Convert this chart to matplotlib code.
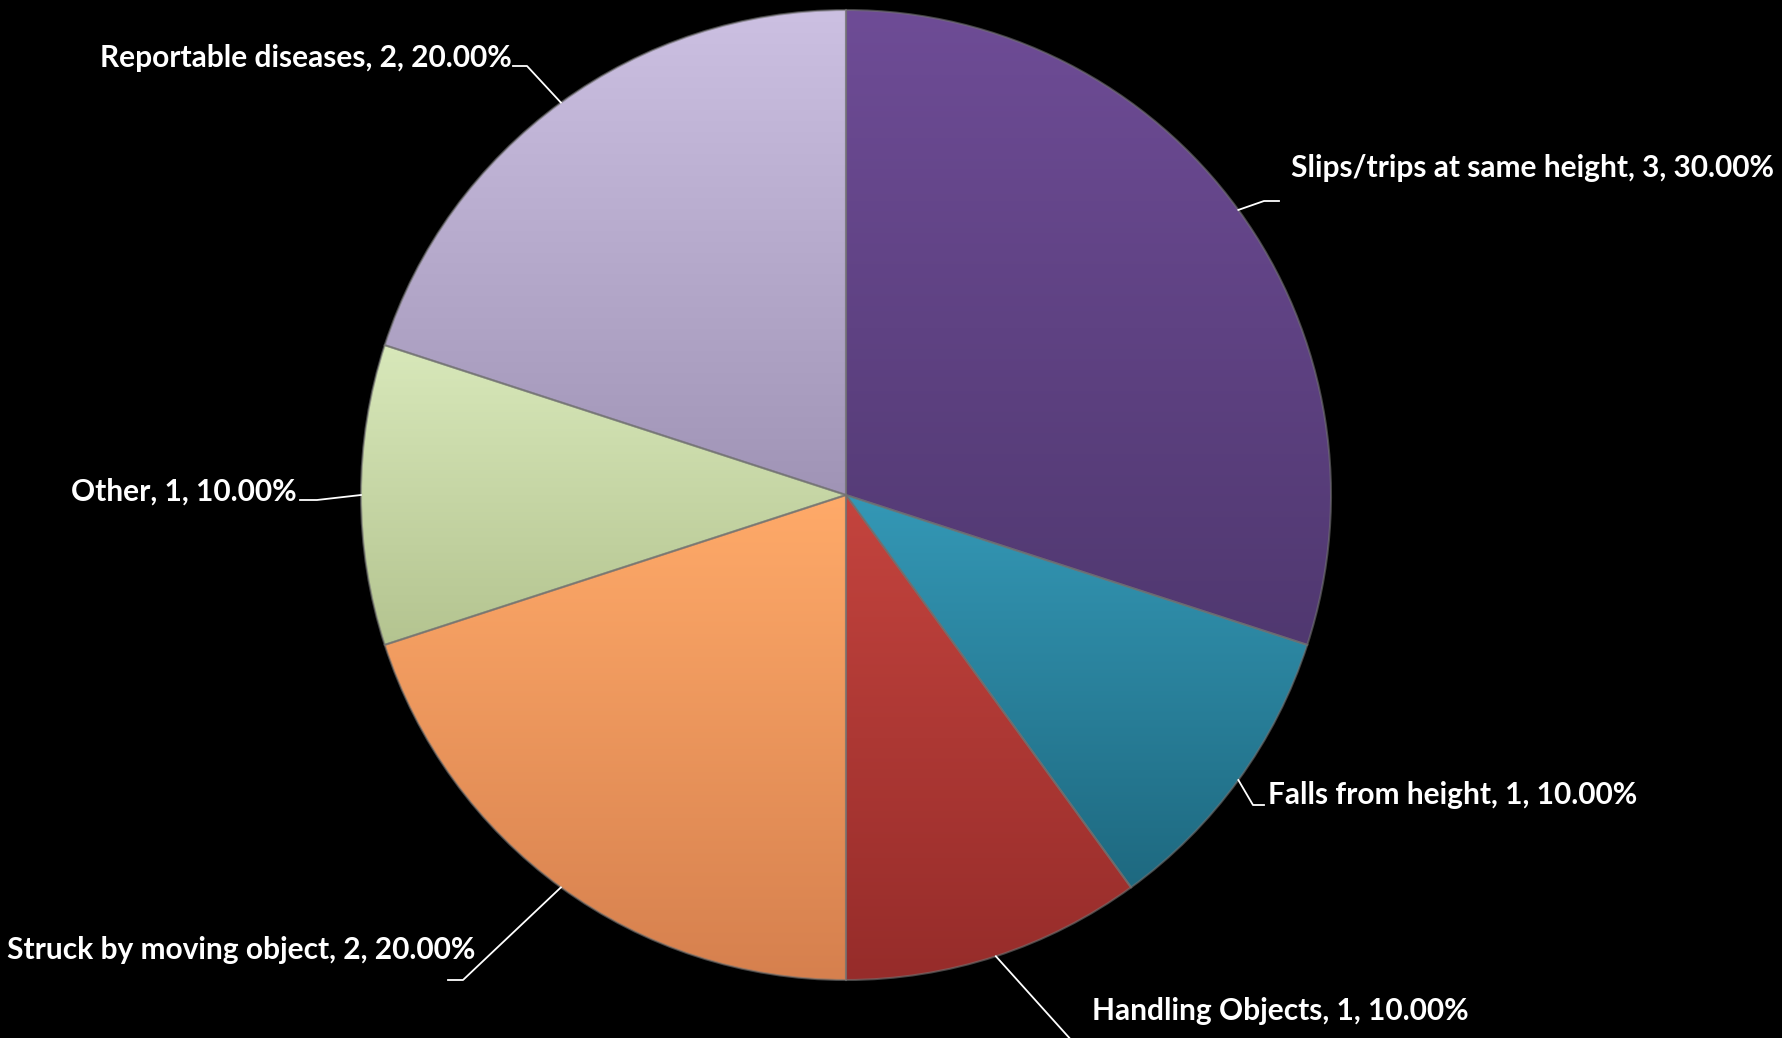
import numpy as np
import matplotlib
matplotlib.use("Agg")
import matplotlib.pyplot as plt
from matplotlib.colors import LinearSegmentedColormap

# accident categories, counts and shares
categories = ["Slips/trips at same height", "Falls from height", "Handling Objects",
              "Struck by moving object", "Other", "Reportable diseases"]
counts = [3, 1, 1, 2, 1, 2]
shares = [30.00, 10.00, 10.00, 20.00, 10.00, 20.00]

# light (top) and dark (bottom) shade of each slice
top_colors = ["#6E4C96", "#3498B6", "#C4443E", "#FFAA69", "#D8E8BA", "#CCC0E2"]
bottom_colors = ["#503870", "#1E6980", "#962C2A", "#D6804E", "#B4C490", "#A094B6"]

W, H = 1783, 1038
fig = plt.figure(figsize=(W / 100, H / 100), dpi=100, facecolor="black")
ax = fig.add_axes([0, 0, 1, 1])
ax.set_facecolor("black")

cx, cy, R = 846, H - 495, 485
wedges, _ = ax.pie(counts, startangle=90, counterclock=False, center=(cx, cy),
                   radius=R, frame=True)
ax.set_xlim(0, W)
ax.set_ylim(0, H)
ax.set_aspect("equal")
ax.axis("off")

grad = np.linspace(0, 1, 256).reshape(-1, 1)
for w, c1, c2 in zip(wedges, top_colors, bottom_colors):
    ext = w.get_path().get_extents()
    cmap = LinearSegmentedColormap.from_list("shade", [c2, c1])
    im = ax.imshow(grad, cmap=cmap, origin="lower", aspect="auto",
                   extent=(ext.x0, ext.x1, ext.y0, ext.y1), zorder=2,
                   interpolation="bilinear")
    im.set_clip_path(w)
    w.set_facecolor("none")
    w.set_edgecolor((0.45, 0.45, 0.45, 0.6))
    w.set_linewidth(1.5)
    w.set_zorder(3)

# label layout: text anchor (x, y from top), alignment, leader elbow and end
label_pos = [(1291, 168, "left", (1264, 201), (1279, 201)),
             (1268, 795, "left", (1253, 805), (1264, 805)),
             (1092, 1011, "left", (1073, 1042), (1086, 1042)),
             (475, 950, "right", (463, 980), (448, 980)),
             (297, 492, "right", (317, 500), (300, 500)),
             (512, 58, "right", (527, 66), (513, 66))]

for w, name, n, pct, (tx, ty, ha, elbow, end) in zip(wedges, categories, counts, shares, label_pos):
    mid = np.deg2rad((w.theta1 + w.theta2) / 2)
    rx, ry = cx + R * np.cos(mid), cy + R * np.sin(mid)
    ax.plot([rx, elbow[0], end[0]], [ry, H - elbow[1], H - end[1]],
            color="white", lw=1.3, zorder=4, clip_on=True)
    ax.text(tx, H - ty, f"{name}, {n}, {pct:.2f}%", ha=ha, va="center",
            color="white", fontsize=21.5, fontweight="bold", family="Lato", zorder=5)

fig.savefig("out.png", dpi=100, facecolor="black")
